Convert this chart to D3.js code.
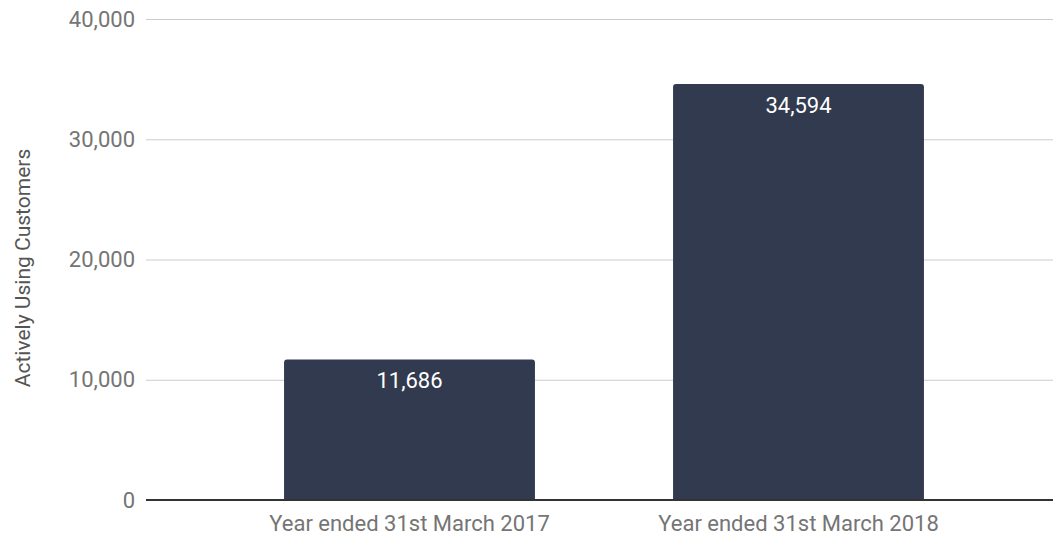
<!DOCTYPE html>
<html>
<head>
<meta charset="utf-8">
<script src="https://cdn.jsdelivr.net/npm/d3@7"></script>
<style>
  html, body { margin: 0; padding: 0; background: #fff; }
  svg { display: block; font-family: Roboto, sans-serif; }
</style>
</head>
<body>
<svg id="chart" width="1053" height="535"></svg>
<script>
const categories = ["Year ended 31st March 2017", "Year ended 31st March 2018"];
const values = [11686, 34594];
const yTicks = [0, 10000, 20000, 30000, 40000];
const yTitle = "Actively Using Customers";

const svg = d3.select("#chart");
const W = 1053, H = 535;
const plotLeft = 146, plotRight = 1053, plotTop = 19, plotBottom = 500;

const x = d3.scaleBand().domain(categories).range([215, 993]).paddingInner(0.355).paddingOuter(0.1775);
const y = d3.scaleLinear().domain([0, 40000]).range([plotBottom, plotTop]);
const fmt = d3.format(",");

// gridlines
const yAxis = d3.axisLeft(y).tickValues(yTicks).tickFormat(fmt).tickSize(-(plotRight - plotLeft)).tickPadding(11);
const gy = svg.append("g").attr("transform", `translate(${plotLeft},0)`).call(yAxis);
gy.select(".domain").remove();
gy.selectAll(".tick line").attr("stroke", "#cccccc").attr("stroke-width", 1);
gy.selectAll(".tick text").attr("fill", "#757575").attr("font-size", 22).attr("font-family", "Roboto, sans-serif");

// bars with rounded top corners
const r = 3;
svg.append("g").selectAll("path").data(categories).join("path")
  .attr("fill", "#323a4f")
  .attr("d", (c, i) => {
    const x0 = x(c), x1 = x(c) + x.bandwidth();
    const yt = y(values[i]), yb = y(0);
    return `M${x0},${yb}V${yt + r}Q${x0},${yt} ${x0 + r},${yt}H${x1 - r}Q${x1},${yt} ${x1},${yt + r}V${yb}Z`;
  });

// value labels
svg.append("g").selectAll("text").data(categories).join("text")
  .attr("x", c => x(c) + x.bandwidth() / 2)
  .attr("y", (c, i) => y(values[i]) + 29)
  .attr("text-anchor", "middle")
  .attr("fill", "#ffffff")
  .attr("font-size", 22)
  .text((c, i) => fmt(values[i]));

// baseline
svg.append("line").attr("x1", plotLeft).attr("x2", plotRight)
  .attr("y1", y(0)).attr("y2", y(0)).attr("stroke", "#333333").attr("stroke-width", 2);

// x axis labels
const xAxis = d3.axisBottom(x).tickSize(0).tickPadding(0);
const gx = svg.append("g").attr("transform", `translate(0,${plotBottom})`).call(xAxis);
gx.select(".domain").remove();
gx.selectAll(".tick text").attr("fill", "#757575").attr("font-size", 22)
  .attr("font-family", "Roboto, sans-serif").attr("dy", null).attr("y", 31);

// y title
svg.append("text")
  .attr("transform", `translate(30,268) rotate(-90)`)
  .attr("text-anchor", "middle")
  .attr("fill", "#555555")
  .attr("font-size", 21)
  .text(yTitle);
</script>
</body>
</html>
